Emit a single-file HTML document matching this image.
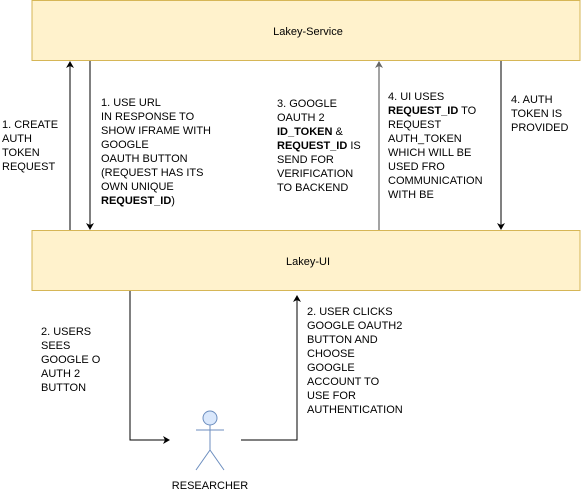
<!DOCTYPE html>
<html><head><style>body{margin:0;background:#fff}svg{display:block}svg text{font-family:'Liberation Sans',Arial,Helvetica,sans-serif;font-size:11px;fill:#000}</style></head>
<body>
<svg width="581" height="491" viewBox="0 0 581 491" font-family="Liberation Sans, Arial, sans-serif" font-size="11">
<defs>
<marker id="a" markerWidth="8" markerHeight="8" refX="6" refY="4" orient="auto" markerUnits="userSpaceOnUse"><path d="M0,0 L7,4 L0,8 L2,4 Z" fill="#000"/></marker>
<marker id="g" markerWidth="8" markerHeight="8" refX="6" refY="4" orient="auto" markerUnits="userSpaceOnUse"><path d="M0,0 L7,4 L0,8 L2,4 Z" fill="#666"/></marker>
</defs>
<rect x="32" y="0.5" width="548" height="60" fill="#fff2cc" stroke="#d6b656"/>
<text x="308" y="35" text-anchor="middle">Lakey-Service</text>
<rect x="32" y="230.5" width="548" height="60" fill="#fff2cc" stroke="#d6b656"/>
<text x="308" y="265" text-anchor="middle">Lakey-UI</text>
<line x1="70" y1="230" x2="70" y2="62" stroke="#000" marker-end="url(#a)"/>
<line x1="90" y1="61" x2="90" y2="229" stroke="#000" marker-end="url(#a)"/>
<line x1="379" y1="230" x2="379" y2="62" stroke="#666" stroke-width="1.2" marker-end="url(#g)"/>
<line x1="501" y1="61" x2="501" y2="229" stroke="#000" marker-end="url(#a)"/>
<polyline points="130,291 130,440 169,440" fill="none" stroke="#000" marker-end="url(#a)"/>
<polyline points="241,440 297,440 297,296" fill="none" stroke="#000" marker-end="url(#a)"/>
<g stroke="#6c8ebf" fill="none">
<circle cx="210" cy="418" r="7" fill="#dae8fc"/>
<line x1="210" y1="425" x2="210" y2="450"/>
<line x1="196" y1="430" x2="224" y2="430"/>
<line x1="210" y1="450" x2="196" y2="470"/>
<line x1="210" y1="450" x2="224" y2="470"/>
</g>
<text x="210" y="489" text-anchor="middle">RESEARCHER</text>
<text x="2" y="128"><tspan x="2">1. CREATE</tspan><tspan x="2" dy="14">AUTH</tspan><tspan x="2" dy="14">TOKEN</tspan><tspan x="2" dy="14">REQUEST</tspan></text>
<text x="101" y="106"><tspan x="101">1. USE URL</tspan><tspan x="101" dy="14">IN RESPONSE TO</tspan><tspan x="101" dy="14">SHOW IFRAME WITH</tspan><tspan x="101" dy="14">GOOGLE</tspan><tspan x="101" dy="14">OAUTH BUTTON</tspan><tspan x="101" dy="14">(REQUEST HAS ITS</tspan><tspan x="101" dy="14">OWN UNIQUE</tspan><tspan x="101" dy="14" font-weight="bold">REQUEST_ID</tspan><tspan>)</tspan></text>
<text x="277" y="107"><tspan x="277">3. GOOGLE</tspan><tspan x="277" dy="14">OAUTH 2</tspan><tspan x="277" dy="14" font-weight="bold">ID_TOKEN</tspan><tspan> &amp;</tspan><tspan x="277" dy="14" font-weight="bold">REQUEST_ID</tspan><tspan> IS</tspan><tspan x="277" dy="14">SEND FOR</tspan><tspan x="277" dy="14">VERIFICATION</tspan><tspan x="277" dy="14">TO BACKEND</tspan></text>
<text x="388" y="100"><tspan x="388">4. UI USES</tspan><tspan x="388" dy="14" font-weight="bold">REQUEST_ID</tspan><tspan> TO</tspan><tspan x="388" dy="14">REQUEST</tspan><tspan x="388" dy="14">AUTH_TOKEN</tspan><tspan x="388" dy="14">WHICH WILL BE</tspan><tspan x="388" dy="14">USED FRO</tspan><tspan x="388" dy="14">COMMUNICATION</tspan><tspan x="388" dy="14">WITH BE</tspan></text>
<text x="511" y="103"><tspan x="511">4. AUTH</tspan><tspan x="511" dy="14">TOKEN IS</tspan><tspan x="511" dy="14">PROVIDED</tspan></text>
<text x="41" y="335"><tspan x="41">2. USERS</tspan><tspan x="41" dy="14">SEES</tspan><tspan x="41" dy="14">GOOGLE O</tspan><tspan x="41" dy="14">AUTH 2</tspan><tspan x="41" dy="14">BUTTON</tspan></text>
<text x="307" y="315"><tspan x="307">2. USER CLICKS</tspan><tspan x="307" dy="14">GOOGLE OAUTH2</tspan><tspan x="307" dy="14">BUTTON AND</tspan><tspan x="307" dy="14">CHOOSE</tspan><tspan x="307" dy="14">GOOGLE</tspan><tspan x="307" dy="14">ACCOUNT TO</tspan><tspan x="307" dy="14">USE FOR</tspan><tspan x="307" dy="14">AUTHENTICATION</tspan></text>
</svg>
</body></html>
